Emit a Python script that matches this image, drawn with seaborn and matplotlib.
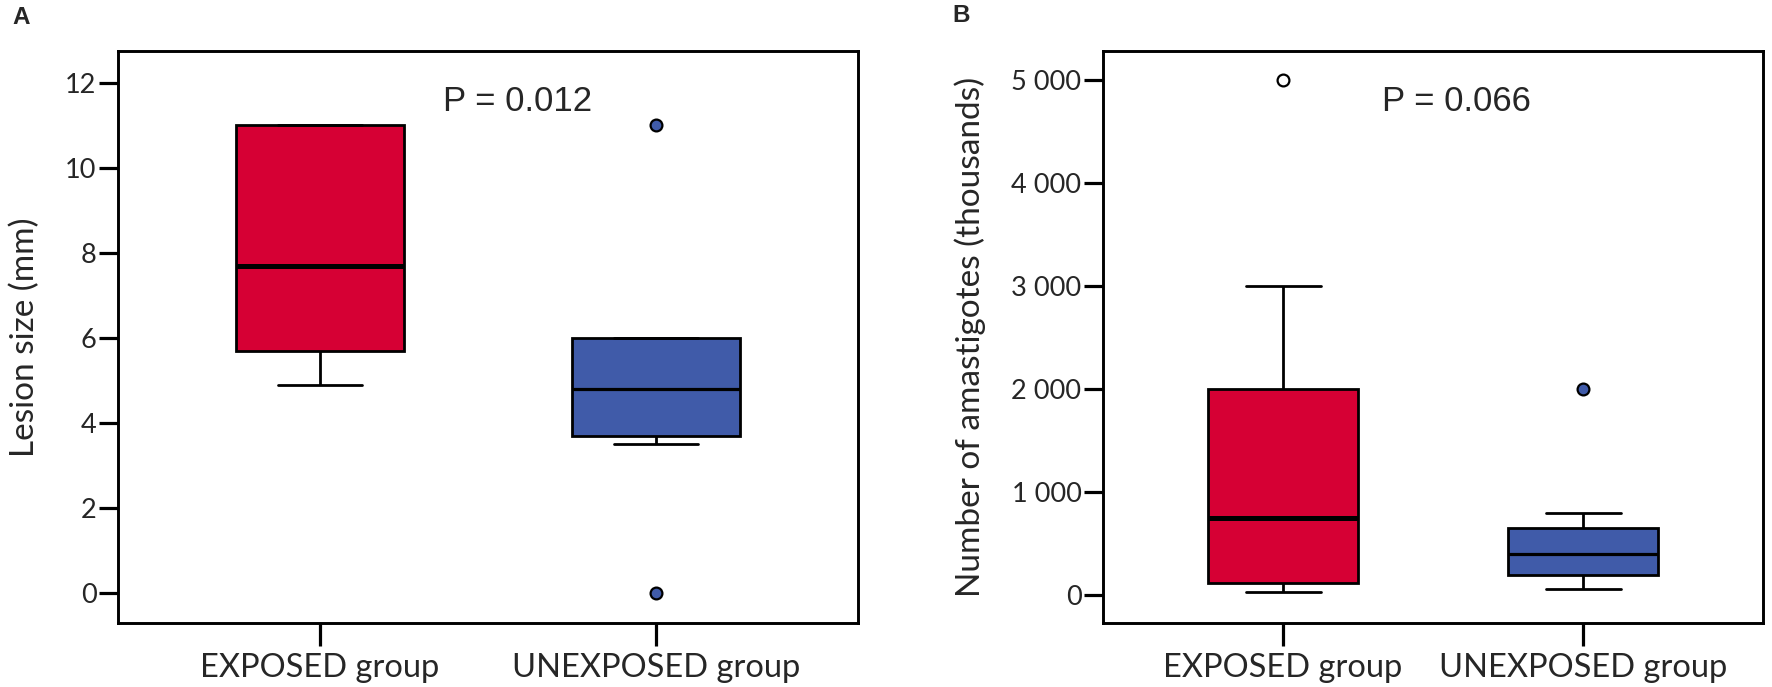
import numpy as np
import pandas as pd
import matplotlib
matplotlib.use("Agg")
import matplotlib.pyplot as plt
import seaborn as sns

# ---- data ----
categories = ["EXPOSED group", "UNEXPOSED group"]
lesion_exposed = [4.9, 5.7, 7.7, 11.0, 11.0]
lesion_unexposed = [0.0, 3.5, 3.7, 4.2, 4.8, 5.5, 6.0, 6.0, 11.0]
amast_exposed = [30, 80, 120, 400, 750, 1500, 2000, 3000, 5000]
amast_unexposed = [60, 150, 200, 300, 400, 500, 650, 800, 2000]
lesion_ticks = [0, 2, 4, 6, 8, 10, 12]
amast_ticks = [0, 1000, 2000, 3000, 4000, 5000]
amast_ticklabels = ["0", "1 000", "2 000", "3 000", "4 000", "5 000"]
p_texts = ["P = 0.012", "P = 0.066"]
panel_labels = ["A", "B"]

RED = "#D60034"
BLUE = "#405BA9"

sns.set_style("white")
plt.rcParams["font.family"] = ["Lato", "DejaVu Sans"]

fig = plt.figure(figsize=(17.72, 6.87), dpi=100)
W, H = 1772, 687
axA = fig.add_axes([118 / W, 1 - 623 / H, 740 / W, 572 / H])
axB = fig.add_axes([1103 / W, 1 - 623 / H, 660 / W, 572 / H])


def draw(ax, exposed, unexposed, open_flier_exposed):
    df_e = pd.DataFrame({"group": categories[0], "value": exposed})
    df_u = pd.DataFrame({"group": categories[1], "value": unexposed})
    specs = [
        (df_e, RED, 3.6, "white" if open_flier_exposed else BLUE),
        (df_u, BLUE, 2.3, BLUE),
    ]
    for df, col, mlw, fface in specs:
        sns.boxplot(
            data=df, x="group", y="value", order=categories, ax=ax,
            color=col, saturation=1, width=0.5, whis=1.5,
            linecolor="black", linewidth=2.0,
            medianprops=dict(color="black", linewidth=mlw),
            flierprops=dict(marker="o", markerfacecolor=fface,
                            markeredgecolor="black", markersize=8.5,
                            markeredgewidth=1.6),
        )
    ax.set_xlim(-0.6, 1.6)
    ax.set_xlabel("")
    for s in ax.spines.values():
        s.set_visible(True)
        s.set_linewidth(2.1)
        s.set_color("black")
    ax.tick_params(axis="y", which="major", direction="out", length=13.5,
                   width=2.3, pad=2, labelsize=19.5, color="black",
                   left=True)
    ax.tick_params(axis="x", which="major", direction="out", length=16.5,
                   width=2.3, pad=5, labelsize=23.5, color="black",
                   bottom=True)


draw(axA, lesion_exposed, lesion_unexposed, False)
axA.set_ylim(-0.7, 12.75)
axA.set_yticks(lesion_ticks)
axA.set_ylabel("Lesion size (mm)", fontsize=24)
axA.yaxis.set_label_coords(-0.105, 0.5)

draw(axB, amast_exposed, amast_unexposed, True)
axB.set_ylim(-270, 5280)
axB.set_yticks(amast_ticks)
axB.set_yticklabels(amast_ticklabels)
axB.set_ylabel("Number of amastigotes (thousands)", fontsize=24)
axB.yaxis.set_label_coords(-0.178, 0.5)

for ax, txt, xf in [(axA, p_texts[0], 0.54), (axB, p_texts[1], 0.535)]:
    ax.text(xf, 0.912, txt, transform=ax.transAxes, ha="center",
            va="center", fontsize=25, family=["Liberation Sans", "DejaVu Sans"])

fig.text(21 / W, 1 - 17 / H, panel_labels[0], fontsize=17.5, fontweight="bold",
         ha="center", va="center", family=["Liberation Sans", "DejaVu Sans"])
fig.text(961 / W, 1 - 16 / H, panel_labels[1], fontsize=17.5, fontweight="bold",
         ha="center", va="center", family=["Liberation Sans", "DejaVu Sans"])

fig.savefig("out.png", dpi=100, facecolor="white")
